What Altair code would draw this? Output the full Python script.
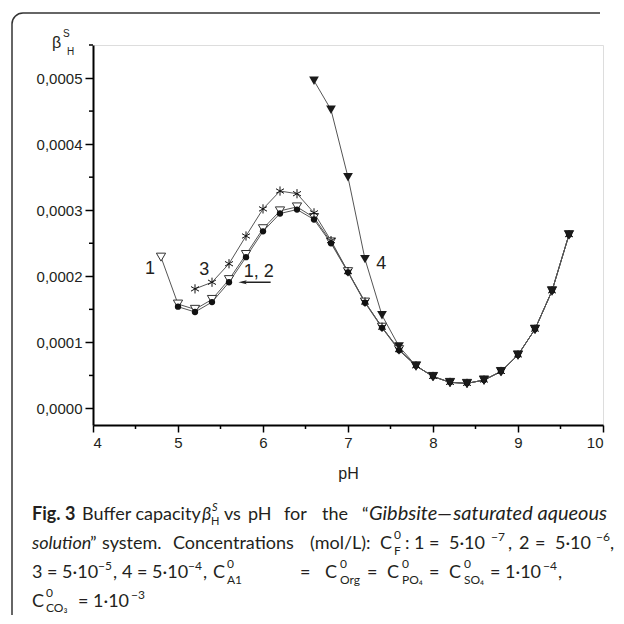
import math
import altair as alt
import pandas as pd

# ---------------- data ----------------
pH_values = [4.8, 5.0, 5.2, 5.4, 5.6, 5.8, 6.0, 6.2, 6.4, 6.6, 6.8, 7.0, 7.2,
             7.4, 7.6, 7.8, 8.0, 8.2, 8.4, 8.6, 8.8, 9.0, 9.2, 9.4, 9.6]

# series 1 (hollow down-triangles), from pH 4.8
beta_1 = [0.000229, 0.000158, 0.000150, 0.000165, 0.000195, 0.000233, 0.000272,
          0.000299, 0.000305, 0.000289, 0.000252, 0.000207, 0.000161, 0.000123,
          0.000089, 0.0000645, 0.0000485, 0.0000395, 0.000038, 0.000043,
          0.000056, 0.000081, 0.000120, 0.000178, 0.000263]
# series 2 (filled circles), from pH 5.0
beta_2 = [0.000154, 0.000146, 0.000161, 0.000191, 0.000229, 0.000268, 0.000295,
          0.000301, 0.000286, 0.000250, 0.000206, 0.000160, 0.000122, 0.000088,
          0.0000645, 0.0000485, 0.0000395, 0.000038, 0.000043, 0.000056,
          0.000081, 0.000120, 0.000178, 0.000263]
# series 3 (asterisks), from pH 5.2
beta_3 = [0.000181, 0.000191, 0.000219, 0.000261, 0.000302, 0.000329, 0.000325,
          0.000296, 0.000254, 0.000207, 0.000161, 0.000123, 0.000089, 0.0000645,
          0.0000485, 0.0000395, 0.000038, 0.000043, 0.000056, 0.000081,
          0.000120, 0.000178, 0.000263]
# series 4 (filled down-triangles), from pH 6.6
beta_4 = [0.000496, 0.000452, 0.000350, 0.000226, 0.000141, 0.000094, 0.0000645,
          0.0000485, 0.0000395, 0.000038, 0.000043, 0.000056, 0.000081,
          0.000120, 0.000178, 0.000263]

series_names = ["1", "2", "3", "4"]

x_ticks = [4, 5, 6, 7, 8, 9, 10]
x_minor = [4.5, 5.5, 6.5, 7.5, 8.5, 9.5]
y_ticks = [0.0, 0.0001, 0.0002, 0.0003, 0.0004, 0.0005]
y_minor = [0.00005, 0.00015, 0.00025, 0.00035, 0.00045, 0.00055]

label_text = ["1", "3", "1, 2", "4"]
label_pH = [4.67, 5.31, 5.95, 7.39]
label_beta = [0.000211, 0.000210, 0.000207, 0.000219]

arrow_pH = [5.76, 6.09]
arrow_beta = [0.000191, 0.000191]

# ---------------- build tables ----------------
rows = []
for name, vals in zip(series_names, [beta_1, beta_2, beta_3, beta_4]):
    start = len(pH_values) - len(vals)
    for p, v in zip(pH_values[start:], vals):
        rows.append({"pH": p, "beta": v, "series": name})
df = pd.DataFrame(rows)

labels_df = pd.DataFrame({"pH": label_pH, "beta": label_beta, "text": label_text})
arrow_df = pd.DataFrame({"pH": [arrow_pH[0]], "pH2": [arrow_pH[1]], "beta": [arrow_beta[0]]})
xminor_df = pd.DataFrame({"pH": x_minor})
yminor_df = pd.DataFrame({"beta": y_minor})
one = pd.DataFrame({"k": [0]})

W, H = 510, 380
OX, OY = 93, 45  # page position of plot origin

AX_FONT = "Liberation Sans"
CAP_FONT = "Lato"
INK = "#231f20"

xs = alt.Scale(domain=[4, 10], nice=False, zero=False)
ys = alt.Scale(domain=[-0.000025, 0.00055], nice=False, zero=False)

x_axis = alt.Axis(values=x_ticks, format="d", title="pH", grid=False,
                  labelPadding=3, titlePadding=15, tickSize=7)
y_axis = alt.Axis(values=y_ticks, title=None, grid=False,
                  labelExpr="replace(format(datum.value, '.4f'), '.', ',')",
                  labelPadding=3, tickSize=8)

base = alt.Chart(df)

lines = base.mark_line(color="#555", strokeWidth=1).encode(
    x=alt.X("pH:Q", scale=xs, axis=x_axis),
    y=alt.Y("beta:Q", scale=ys, axis=y_axis),
    detail="series:N",
)

XP = alt.X("pH:Q")
YP = alt.Y("beta:Q")

p1 = base.transform_filter("datum.series == '1'").mark_point(
    shape="triangle-down", size=85, filled=True, fill="white", stroke="#333",
    strokeWidth=1, opacity=1).encode(x=XP, y=YP)
p2 = base.transform_filter("datum.series == '2'").mark_circle(
    size=40, color="#111", opacity=1).encode(x=XP, y=YP)
ASTERISK = "M0,-1L0,1M-0.87,-0.5L0.87,0.5M-0.87,0.5L0.87,-0.5"
p3 = base.transform_filter("datum.series == '3'").mark_point(
    shape=ASTERISK, size=85, filled=False, stroke="#111", strokeWidth=1,
    opacity=1).encode(x=XP, y=YP)
p4 = base.transform_filter("datum.series == '4'").mark_point(
    shape="triangle-down", size=95, filled=True, color="#1a1a1a",
    opacity=1).encode(x=XP, y=YP)

labels = alt.Chart(labels_df).mark_text(
    font=AX_FONT, fontSize=18, color=INK, align="center", baseline="middle"
).encode(x=XP, y=YP, text="text:N")

arrow_line = alt.Chart(arrow_df).mark_rule(color="#222", strokeWidth=1.5).encode(
    x=XP, x2="pH2:Q", y=YP)
arrow_head = alt.Chart(arrow_df).mark_point(
    shape="M-1,0L1,-0.45L0.6,0L1,0.45Z", size=70, filled=True, color="#222",
    opacity=1).encode(x=XP, y=YP)

xminor = alt.Chart(xminor_df).mark_rule(color="black", strokeWidth=1.5).encode(
    x=XP, y=alt.value(H), y2=alt.value(H + 4))
yminor = alt.Chart(yminor_df).mark_rule(color="black", strokeWidth=1.5).encode(
    y=YP, x=alt.value(0), x2=alt.value(-4))

# frame: left edge, top edge and rounded top-left corner
R = 11
BX, BY = 12, 13
frame_col = "#333"
frame_left = alt.Chart(one).mark_rule(color=frame_col, strokeWidth=1.5).encode(
    x=alt.value(BX - OX), y=alt.value(BY + R - OY), y2=alt.value(700))
frame_top = alt.Chart(one).mark_rule(color=frame_col, strokeWidth=1.5).encode(
    x=alt.value(BX + R - OX), x2=alt.value(600 - OX), y=alt.value(BY - OY))
frame_corner = alt.Chart(one).mark_arc(
    color=frame_col, radius=R + 0.75, radius2=R - 0.75,
    theta=1.5 * math.pi, theta2=2 * math.pi).encode(
    x=alt.value(BX + R - OX), y=alt.value(BY + R - OY))


def txt(s, px, py, size=18, weight="normal", style="normal", font=CAP_FONT,
        align="left"):
    return alt.Chart(one).mark_text(
        text=s, align=align, baseline="alphabetic", font=font, fontSize=size,
        fontWeight=weight, fontStyle=style, color=INK).encode(
        x=alt.value(px - OX), y=alt.value(py - OY))


# y-axis title  beta^S_H
ytitle = [
    txt("β", 52, 48, size=16, font=AX_FONT),
    txt("S", 63, 37, size=10, font=AX_FONT),
    txt("H", 67, 55, size=10, font=AX_FONT),
]

SUP, SUB = 12, 12
UP, DN = 10, 6
L1, L2, L3, L4 = 520, 549, 578, 607
cap = [
    # line 1
    txt("Fig. 3", 32, L1, weight="bold"),
    txt("Buffer capacity", 82, L1),
    txt("β", 202, L1, style="italic"),
    txt("S", 212, L1 - 9, size=11, style="italic"),
    txt("H", 211, L1 + 5, size=11),
    txt("vs", 224, L1),
    txt("pH", 248, L1),
    txt("for", 284, L1),
    txt("the", 322, L1),
    txt("\u201c", 362, L1),
    txt("Gibbsite\u2014", 369, L1, size=20, style="italic"),
    txt("saturated aqueous", 607, L1, size=20, style="italic", align="right"),
    # line 2
    txt("solution", 32, L2, style="italic"),
    txt("\u201d", 90, L2),
    txt("system.", 102, L2),
    txt("Concentrations", 173, L2),
    txt("(mol/L):", 310, L2),
    txt("C", 380, L2),
    txt("0", 394, L2 - UP, size=SUP),
    txt("F", 394, L2 + DN, size=SUB),
    txt(":", 405, L2),
    txt("1", 414, L2),
    txt("=", 429, L2),
    txt("5\u00b710", 449, L2),
    txt("\u22127", 491, L2 - 8, size=SUP),
    txt(",", 508, L2),
    txt("2", 519, L2),
    txt("=", 535, L2),
    txt("5\u00b710", 555, L2),
    txt("\u22126", 596, L2 - 8, size=SUP),
    txt(",", 610, L2),
    # line 3
    txt("3 = 5\u00b710", 32, L3),
    txt("\u22125", 98, L3 - 8, size=SUP),
    txt(",", 113, L3),
    txt("4 = 5\u00b710", 122, L3),
    txt("\u22124", 188, L3 - 8, size=SUP),
    txt(",", 203, L3),
    txt("C", 213, L3),
    txt("0", 227, L3 - UP, size=SUP),
    txt("A1", 227, L3 + DN, size=SUB),
    txt("=", 300, L3),
    txt("C", 325, L3),
    txt("0", 340, L3 - UP, size=SUP),
    txt("Org", 340, L3 + DN, size=SUB),
    txt("=", 367, L3),
    txt("C", 387, L3),
    txt("0", 402, L3 - UP, size=SUP),
    txt("PO\u2084", 402, L3 + DN, size=SUB),
    txt("=", 429, L3),
    txt("C", 449, L3),
    txt("0", 464, L3 - UP, size=SUP),
    txt("SO\u2084", 464, L3 + DN, size=SUB),
    txt("= 1\u00b710", 490, L3),
    txt("\u22124", 543, L3 - 8, size=SUP),
    txt(",", 558, L3),
    # line 4
    txt("C", 32, L4),
    txt("0", 46, L4 - UP, size=SUP),
    txt("CO\u2083", 46, L4 + 5, size=SUB),
    txt("= 1\u00b710", 78, L4),
    txt("\u22123", 131, L4 - 8, size=SUP),
]

chart = alt.layer(
    frame_left, frame_top, frame_corner, lines, xminor, yminor, p1, p2, p3, p4,
    labels, arrow_line, arrow_head, *ytitle, *cap
).properties(
    width=W, height=H,
    autosize=alt.AutoSizeParams(type="none"),
    padding={"left": OX - 8, "top": OY - 8, "right": 13, "bottom": 190},
).configure_view(stroke=None).configure(background="white").configure_axis(
    domainColor="black", domainWidth=2, tickColor="black", tickWidth=1.5,
    labelFont=AX_FONT, labelFontSize=15, labelColor=INK, titleFont=AX_FONT,
    titleFontSize=16, titleFontWeight="normal", titleColor=INK, grid=False)

chart.save("out.html", embed_options={"renderer": "svg", "actions": False})
